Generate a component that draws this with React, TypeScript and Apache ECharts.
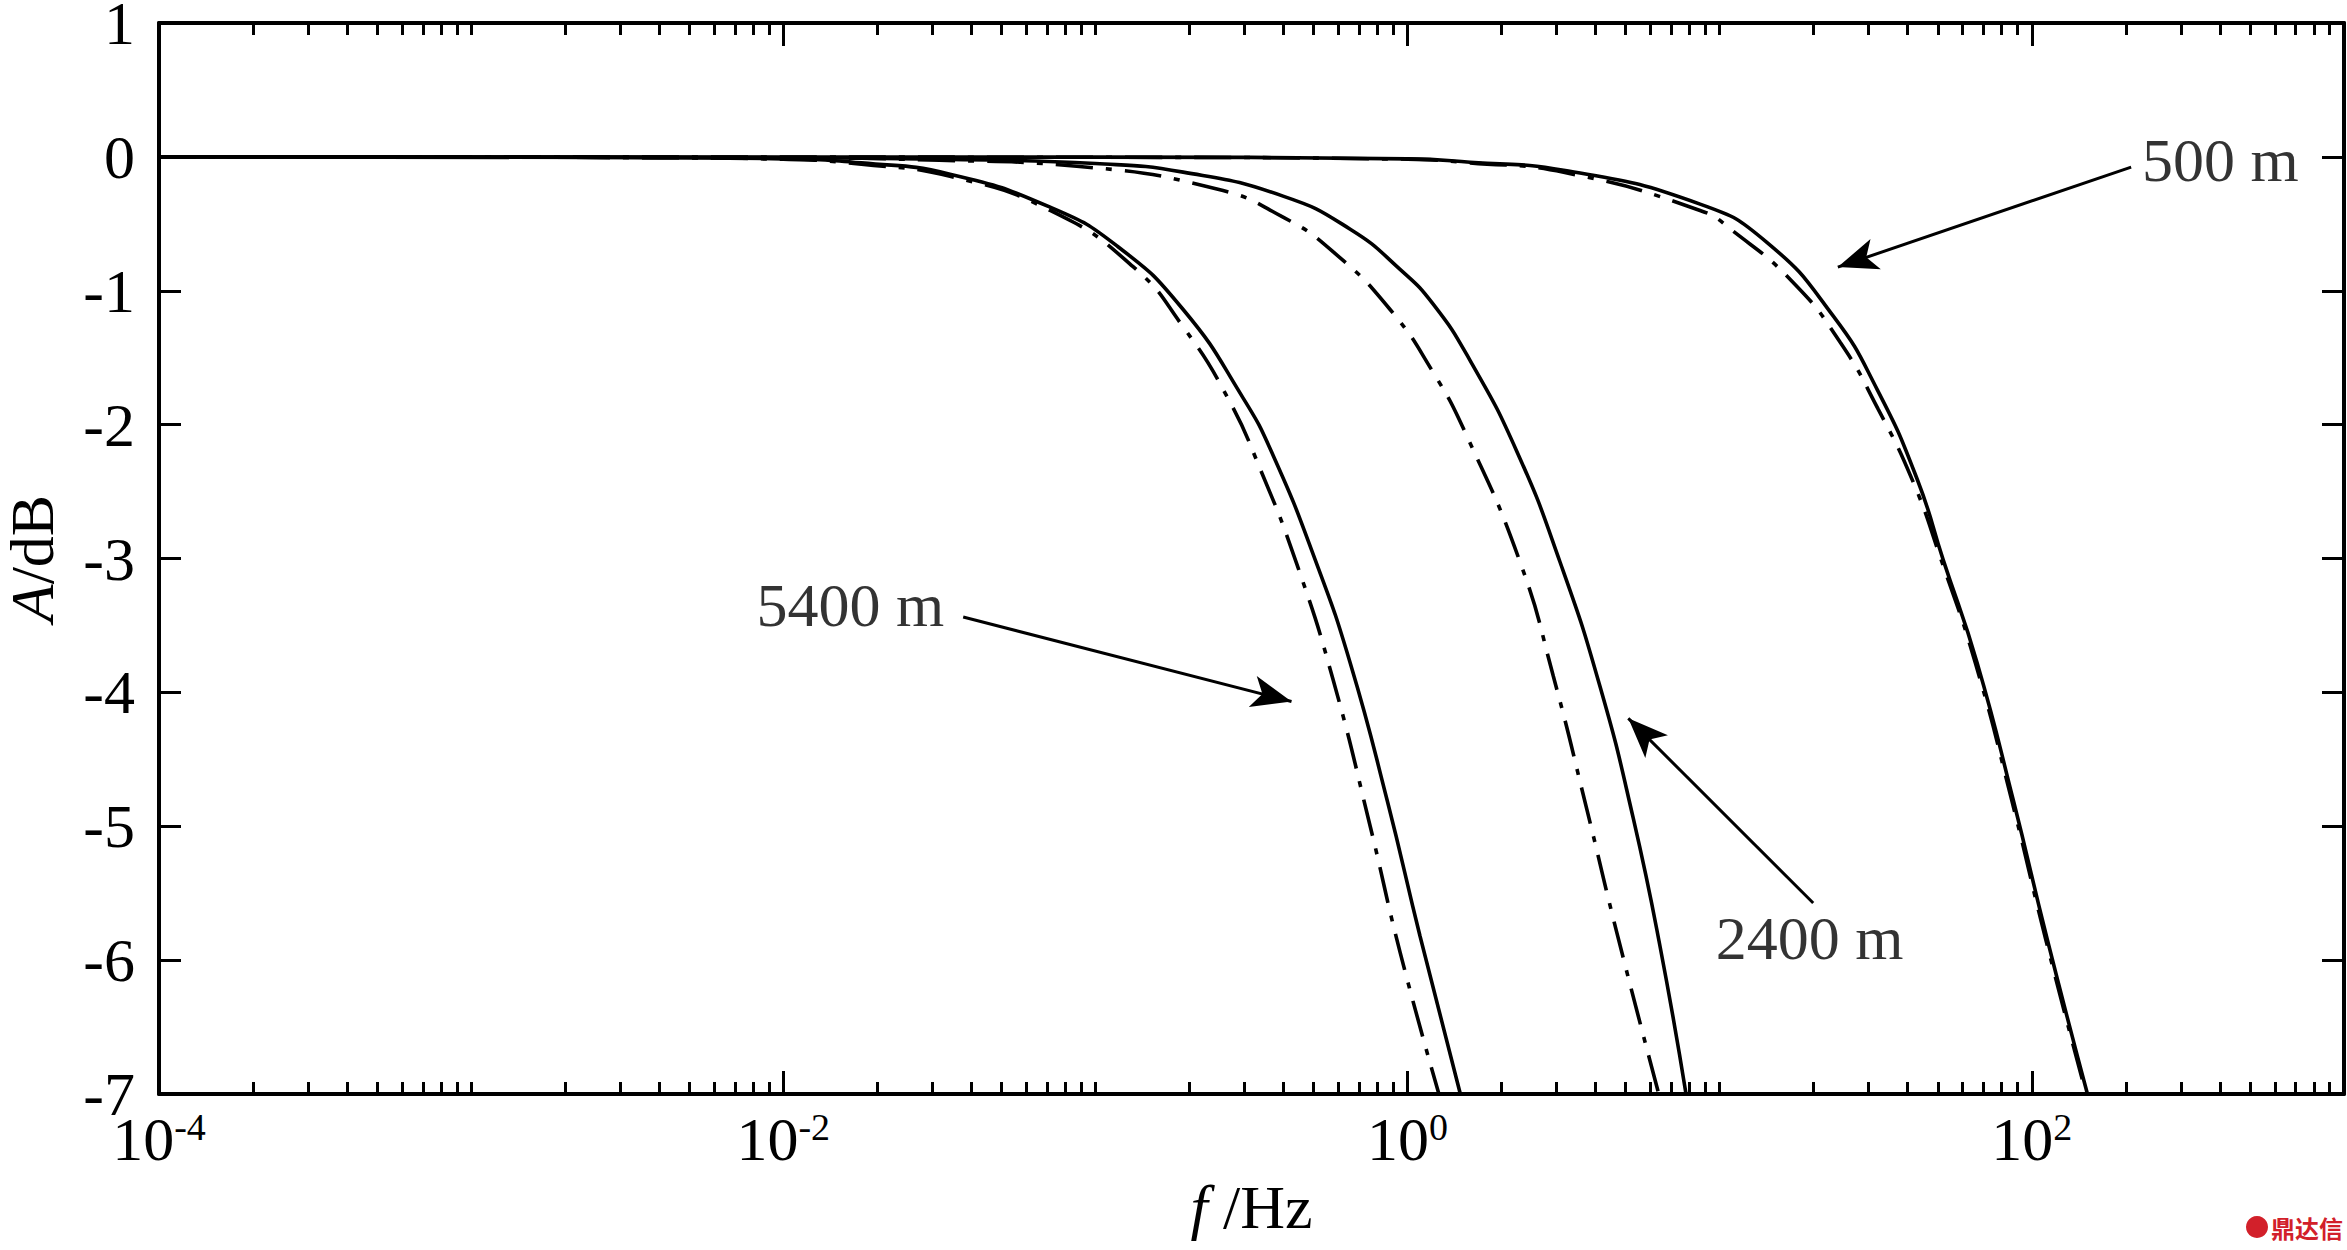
import React, { useEffect, useRef } from 'react';
import * as echarts from 'echarts';

const FONT = "'Times New Roman', 'Liberation Serif', serif";

// ---- data (frequency in Hz, attenuation in dB) ----
const f5400Solid = [0.0001, 0.001, 0.00316, 0.01, 0.0178, 0.0342, 0.0716, 0.1175, 0.191, 0.297, 0.371, 0.506, 0.655, 0.861, 1.096, 1.476];
const a5400Solid = [0, -0.001, -0.004, -0.015, -0.045, -0.129, -0.376, -0.667, -1.14, -1.8, -2.23, -3.01, -3.78, -4.81, -5.82, -7];

const f5400Dash = [0.0001, 0.001, 0.00316, 0.01, 0.0178, 0.0342, 0.0716, 0.132, 0.191, 0.264, 0.337, 0.443, 0.578, 0.759, 0.946, 1.26];
const a5400Dash = [0, -0.001, -0.005, -0.018, -0.055, -0.145, -0.4, -0.82, -1.27, -1.79, -2.33, -3.05, -3.91, -5.0, -5.94, -7];

const f2400Solid = [0.0001, 0.01, 0.0316, 0.1, 0.191, 0.399, 0.655, 0.946, 1.208, 1.585, 2.239, 3.083, 4.14, 5.284, 6.442, 7.8];
const a2400Solid = [0, -0.006, -0.018, -0.05, -0.114, -0.293, -0.54, -0.84, -1.1, -1.52, -2.2, -3.03, -3.96, -4.94, -5.9, -7];

const f2400Dash = [0.0001, 0.01, 0.0316, 0.0871, 0.245, 0.399, 0.578, 0.879, 1.208, 1.531, 2.296, 2.931, 3.758, 4.688, 6.38];
const a2400Dash = [0, -0.007, -0.025, -0.07, -0.24, -0.45, -0.71, -1.14, -1.61, -2.06, -3.03, -3.88, -4.88, -5.8, -7];

const f500Solid = [0.0001, 0.1, 1, 1.585, 3.162, 8.65, 14.19, 23.12, 31.99, 42.95, 52.0, 66.8, 87.3, 111.9, 150.7];
const a500Solid = [0, -0.002, -0.015, -0.04, -0.1, -0.353, -0.64, -1.19, -1.74, -2.41, -3.01, -3.78, -4.81, -5.84, -7];

const f500Dash = [0.0001, 0.1, 1, 1.585, 3.162, 8.65, 11.04, 17.22, 24.32, 32.21, 41.69, 50.8, 66.1, 86.5, 110.9, 149.3];
const a500Dash = [0, -0.003, -0.017, -0.045, -0.115, -0.4, -0.555, -0.94, -1.385, -1.886, -2.43, -2.985, -3.79, -4.82, -5.85, -7];

// ---- annotations ----
const annoText = ['500 m', '5400 m', '2400 m'];
const annoFreq = [401.6, 0.0164, 19.4];
const annoAmp = [-0.024, -3.344, -5.834];
const arrowFrom = [[208, -0.076], [0.0377, -3.437], [19.93, -5.573]];
const arrowTo = [[23.9, -0.823], [0.4247, -4.068], [5.095, -4.194]];

// ---- axis ticks ----
const decadeExps = [-4, -3, -2, -1, 0, 1, 2];
const minorMultipliers = [2, 3, 4, 5, 6, 7, 8, 9];
const shortDecadeExps = [-3, -1, 1, 3];
const labeledExps = [-4, -2, 0, 2];
const yTickMin = -7;
const yTickMax = 1;

const minorTicks: number[] = [];
decadeExps.forEach((e) => minorMultipliers.forEach((m) => minorTicks.push(parseFloat((m * Math.pow(10, e)).toPrecision(3)))));
shortDecadeExps.forEach((e) => minorTicks.push(Math.pow(10, e)));
const majorTicks = labeledExps.map((e) => Math.pow(10, e));

const zip = (f: number[], a: number[]) => f.map((v, i) => [v, a[i]]);

const DASH_DOT = [37, 13, 6, 13];
const LW = 3.6;

function buildOption() {
  const lineStyleAxis = { color: '#000', width: 4 };
  const tickStyle = { color: '#000', width: 3 };
  const xBase: any = {
    type: 'log',
    logBase: 10,
    min: 0.0001,
    max: 1000,
    gridIndex: 0,
    splitLine: { show: false },
    minorTick: { show: false },
    minorSplitLine: { show: false },
  };
  const yBase: any = {
    type: 'value',
    min: yTickMin,
    max: yTickMax,
    interval: 1,
    gridIndex: 0,
    splitLine: { show: false },
  };
  const mkLine = (name: string, f: number[], a: number[], dashed: boolean) => ({
    type: 'line',
    name,
    xAxisIndex: 0,
    yAxisIndex: 0,
    data: zip(f, a),
    symbol: 'none',
    showSymbol: false,
    smooth: 0.5,
    silent: true,
    clip: true,
    lineStyle: { color: '#000', width: LW, type: dashed ? DASH_DOT : 'solid', cap: 'butt' },
  });

  return {
    animation: false,
    backgroundColor: '#fff',
    grid: {
      left: 159,
      top: 23,
      right: 3,
      bottom: 156,
      containLabel: false,
      outerBoundsMode: 'none',
    },
    xAxis: [
      {
        ...xBase,
        position: 'bottom',
        axisLine: { show: true, onZero: false, lineStyle: lineStyleAxis },
        axisTick: { show: true, inside: true, length: 12, customValues: minorTicks, lineStyle: tickStyle },
        axisLabel: {
          show: true,
          customValues: majorTicks,
          margin: 14,
          formatter: (v: number) => `{b|10}{s|${Math.round(Math.log10(v))}}`,
          rich: {
            b: { fontSize: 62, fontFamily: FONT, color: '#000', lineHeight: 62 },
            s: { fontSize: 38, fontFamily: FONT, color: '#000', lineHeight: 40, verticalAlign: 'top' },
          },
        },
        name: '{i|f}{n| /Hz}',
        nameLocation: 'middle',
        nameGap: 82,
        nameTextStyle: {
          rich: {
            i: { fontSize: 62, fontFamily: FONT, fontStyle: 'italic', color: '#000' },
            n: { fontSize: 62, fontFamily: FONT, color: '#000' },
          },
        },
      },
      {
        ...xBase,
        position: 'bottom',
        axisLine: { show: false, onZero: false },
        axisTick: { show: true, inside: true, length: 23, customValues: majorTicks, lineStyle: tickStyle },
        axisLabel: { show: false },
      },
      {
        ...xBase,
        position: 'top',
        axisLine: { show: true, onZero: false, lineStyle: lineStyleAxis },
        axisTick: { show: true, inside: true, length: 12, customValues: minorTicks, lineStyle: tickStyle },
        axisLabel: { show: false },
      },
      {
        ...xBase,
        position: 'top',
        axisLine: { show: false, onZero: false },
        axisTick: { show: true, inside: true, length: 23, customValues: majorTicks, lineStyle: tickStyle },
        axisLabel: { show: false },
      },
    ],
    yAxis: [
      {
        ...yBase,
        position: 'left',
        axisLine: { show: true, onZero: false, lineStyle: lineStyleAxis },
        axisTick: { show: true, inside: true, length: 22, lineStyle: tickStyle },
        axisLabel: {
          show: true,
          fontSize: 62,
          lineHeight: 30,
          padding: [14, 0, 0, 0],
          fontFamily: FONT,
          color: '#000',
          margin: 24,
        },
        name: '{i|A}{n|/dB}',
        nameLocation: 'middle',
        nameGap: 96,
        nameTextStyle: {
          rich: {
            i: { fontSize: 62, fontFamily: FONT, fontStyle: 'italic', color: '#000' },
            n: { fontSize: 62, fontFamily: FONT, color: '#000' },
          },
        },
      },
      {
        ...yBase,
        position: 'right',
        axisLine: { show: true, onZero: false, lineStyle: lineStyleAxis },
        axisTick: { show: true, inside: true, length: 22, lineStyle: tickStyle },
        axisLabel: { show: false },
      },
    ],
    series: [
      mkLine('5400 m', f5400Solid, a5400Solid, false),
      mkLine('5400 m model', f5400Dash, a5400Dash, true),
      mkLine('2400 m', f2400Solid, a2400Solid, false),
      mkLine('2400 m model', f2400Dash, a2400Dash, true),
      mkLine('500 m', f500Solid, a500Solid, false),
      mkLine('500 m model', f500Dash, a500Dash, true),
      {
        type: 'scatter',
        name: 'labels',
        xAxisIndex: 0,
        yAxisIndex: 0,
        silent: true,
        symbolSize: 1,
        itemStyle: { color: 'rgba(0,0,0,0)' },
        data: annoFreq.map((f, i) => [f, annoAmp[i]]),
        label: {
          show: true,
          position: 'inside',
          formatter: (p: any) => annoText[p.dataIndex],
          fontSize: 62,
          fontFamily: FONT,
          color: '#000',
          textBorderWidth: 0,
        },
        labelLayout: { hideOverlap: false },
        markLine: {
          silent: true,
          symbol: ['none', 'arrow'],
          symbolSize: [0, 40],
          label: { show: false },
          lineStyle: { color: '#000', width: 3, type: 'solid' },
          data: arrowFrom.map((from, i) => [
            { coord: from, symbol: 'none' },
            { coord: arrowTo[i], symbol: 'arrow', symbolSize: [24, 40] },
          ]),
        },
      },
    ],
    graphic: [
      { type: 'circle', shape: { cx: 2257, cy: 1227, r: 11 }, style: { fill: '#d2202a' } },
      {
        type: 'text',
        x: 2271,
        y: 1227,
        style: {
          text: '鼎达信',
          fontSize: 24,
          fontWeight: 'bold',
          fontFamily: "'Noto Sans CJK SC', sans-serif",
          fill: '#d2202a',
          verticalAlign: 'middle',
          align: 'left',
        },
      },
    ],
  };
}

export default function App() {
  const ref = useRef<HTMLDivElement>(null);
  useEffect(() => {
    document.body.style.margin = '0';
    const chart = echarts.init(ref.current as HTMLDivElement, null, { renderer: 'svg' });
    chart.setOption(buildOption() as any);
    return () => {
      chart.dispose();
    };
  }, []);
  return <div ref={ref} style={{ width: 2347, height: 1250, background: '#fff' }} />;
}
